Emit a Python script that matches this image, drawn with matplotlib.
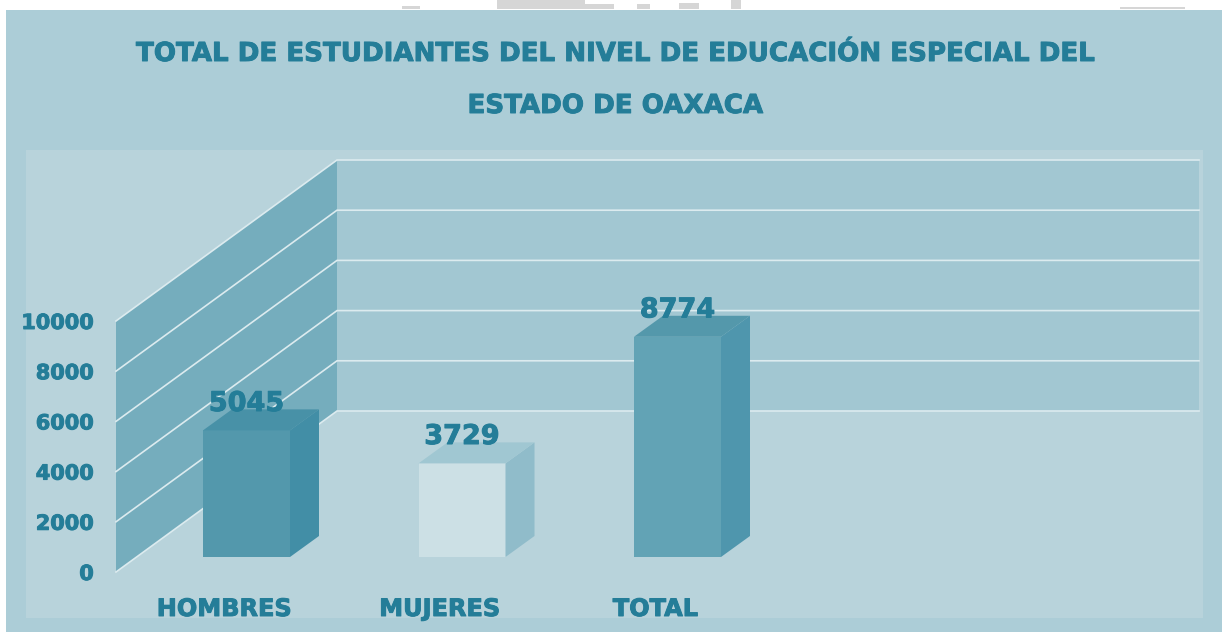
import numpy as np
import matplotlib
matplotlib.use('Agg')
import matplotlib.pyplot as plt
import matplotlib.patheffects as pe
from matplotlib.patches import Polygon, Rectangle

# chart values
categorias = ['HOMBRES', 'MUJERES', 'TOTAL']
valores = [5045, 3729, 8774]
y_ticks = [0, 2000, 4000, 6000, 8000, 10000]
titulo = ['TOTAL DE ESTUDIANTES DEL NIVEL DE EDUCACIÓN ESPECIAL DEL', 'ESTADO DE OAXACA']

# colours: front, side, top of each bar
colores = [('#5398ac', '#428ea6', '#4891a7'),
           ('#cce0e5', '#90bcca', '#a0c7d2'),
           ('#62a3b5', '#4f96ad', '#5498ab')]
TEXTO = '#247d98'
LINEA = '#dcebef'

W, H = 1222, 632
PX_CAT = 215.5     # pixels per category
PX_VAL = 25.1 / 1000  # pixels per unit of value

plt.rcParams['font.family'] = 'DejaVu Sans'
plt.rcParams['font.weight'] = 'bold'

# text in the reference is heavier than plain bold
grueso = [pe.withStroke(linewidth=0.7, foreground=TEXTO)]

fig = plt.figure(figsize=(W / 100, H / 100), dpi=100, facecolor='white')


def caja(x0, y0, x1, y1, color):
    # rectangle given in figure pixels, y measured from the top
    fig.add_artist(Rectangle((x0 / W, 1 - y1 / H), (x1 - x0) / W, (y1 - y0) / H,
                             transform=fig.transFigure, color=color, lw=0, zorder=-5))


# grey remains of a picture cut off above the panel
for a, b, c in [(402, 420, 6), (497, 585, 0), (585, 614, 4), (637, 650, 4), (679, 699, 3),
                (731, 741, 0), (1120, 1185, 7)]:
    caja(a, c, b, 9, '#d6d6d6')

caja(6, 10, W, H, '#accdd7')
caja(26, 150, 1203, 618, '#b8d3db')

# the axes is the front plane of the 3D chart
ax = fig.add_axes([116 / W, 1 - 572 / H, 862 / W, 251 / H])
ax.patch.set_alpha(0)
ax.set_xlim(-130.5 / PX_CAT, 731.5 / PX_CAT)
ax.set_ylim(0, 10000)
for s in ax.spines.values():
    s.set_visible(False)

# depth of walls and bars, in data units
dx, dy = 221 / PX_CAT, 161 / PX_VAL
bx, by = 29 / PX_CAT, 21 / PX_VAL
base = 15 / PX_VAL
ancho = 87 / PX_CAT

x0, x1 = ax.get_xlim()
ax.add_patch(Polygon([(x0 + dx, dy), (x1 + dx, dy), (x1 + dx, 10000 + dy), (x0 + dx, 10000 + dy)],
                     color='#a2c7d2', lw=0, clip_on=False, zorder=1))
ax.add_patch(Polygon([(x0, 0), (x0 + dx, dy), (x0 + dx, 10000 + dy), (x0, 10000)],
                     color='#75adbd', lw=0, clip_on=False, zorder=1))

# gridlines on both walls
for t in y_ticks:
    ax.plot([x0, x0 + dx, x1 + dx], [t, t + dy, t + dy], color=LINEA, lw=1.2,
            clip_on=False, zorder=2, solid_joinstyle='miter')

# bars
x = np.arange(len(valores))
for i, v in enumerate(valores):
    front, side, top = colores[i]
    l, r = x[i] - ancho / 2, x[i] + ancho / 2
    b, t = base, base + v
    ax.add_patch(Polygon([(l, b), (r, b), (r, t), (l, t)], color=front, lw=0, clip_on=False, zorder=3))
    ax.add_patch(Polygon([(r, b), (r + bx, b + by), (r + bx, t + by), (r, t)], color=side, lw=0,
                         clip_on=False, zorder=3))
    ax.add_patch(Polygon([(l, t), (r, t), (r + bx, t + by), (l + bx, t + by)], color=top, lw=0,
                         clip_on=False, zorder=3))
    ax.annotate(str(v), (x[i], t), xytext=(0, 19), textcoords='offset points', ha='center',
                va='center', fontsize=19.5, color=TEXTO, zorder=5, annotation_clip=False,
                path_effects=grueso)

# axis labels
ax.set_yticks(y_ticks)
ax.set_yticklabels([str(t) for t in y_ticks])
ax.set_xticks(x - 22 / PX_CAT)
ax.set_xticklabels(categorias)
ax.tick_params(axis='y', length=0, pad=16, labelsize=15, labelcolor=TEXTO)
ax.tick_params(axis='x', length=0, pad=18, labelsize=17.3, labelcolor=TEXTO)
for lab in ax.get_xticklabels() + ax.get_yticklabels():
    lab.set_path_effects(grueso)

fig.text(615.5 / W, 1 - 54 / H, titulo[0], ha='center', va='center', fontsize=18.8, color=TEXTO,
         path_effects=grueso)
fig.text(615.5 / W, 1 - 106 / H, titulo[1], ha='center', va='center', fontsize=18.8, color=TEXTO,
         path_effects=grueso)

fig.savefig('out.png', dpi=100, facecolor=fig.get_facecolor())
